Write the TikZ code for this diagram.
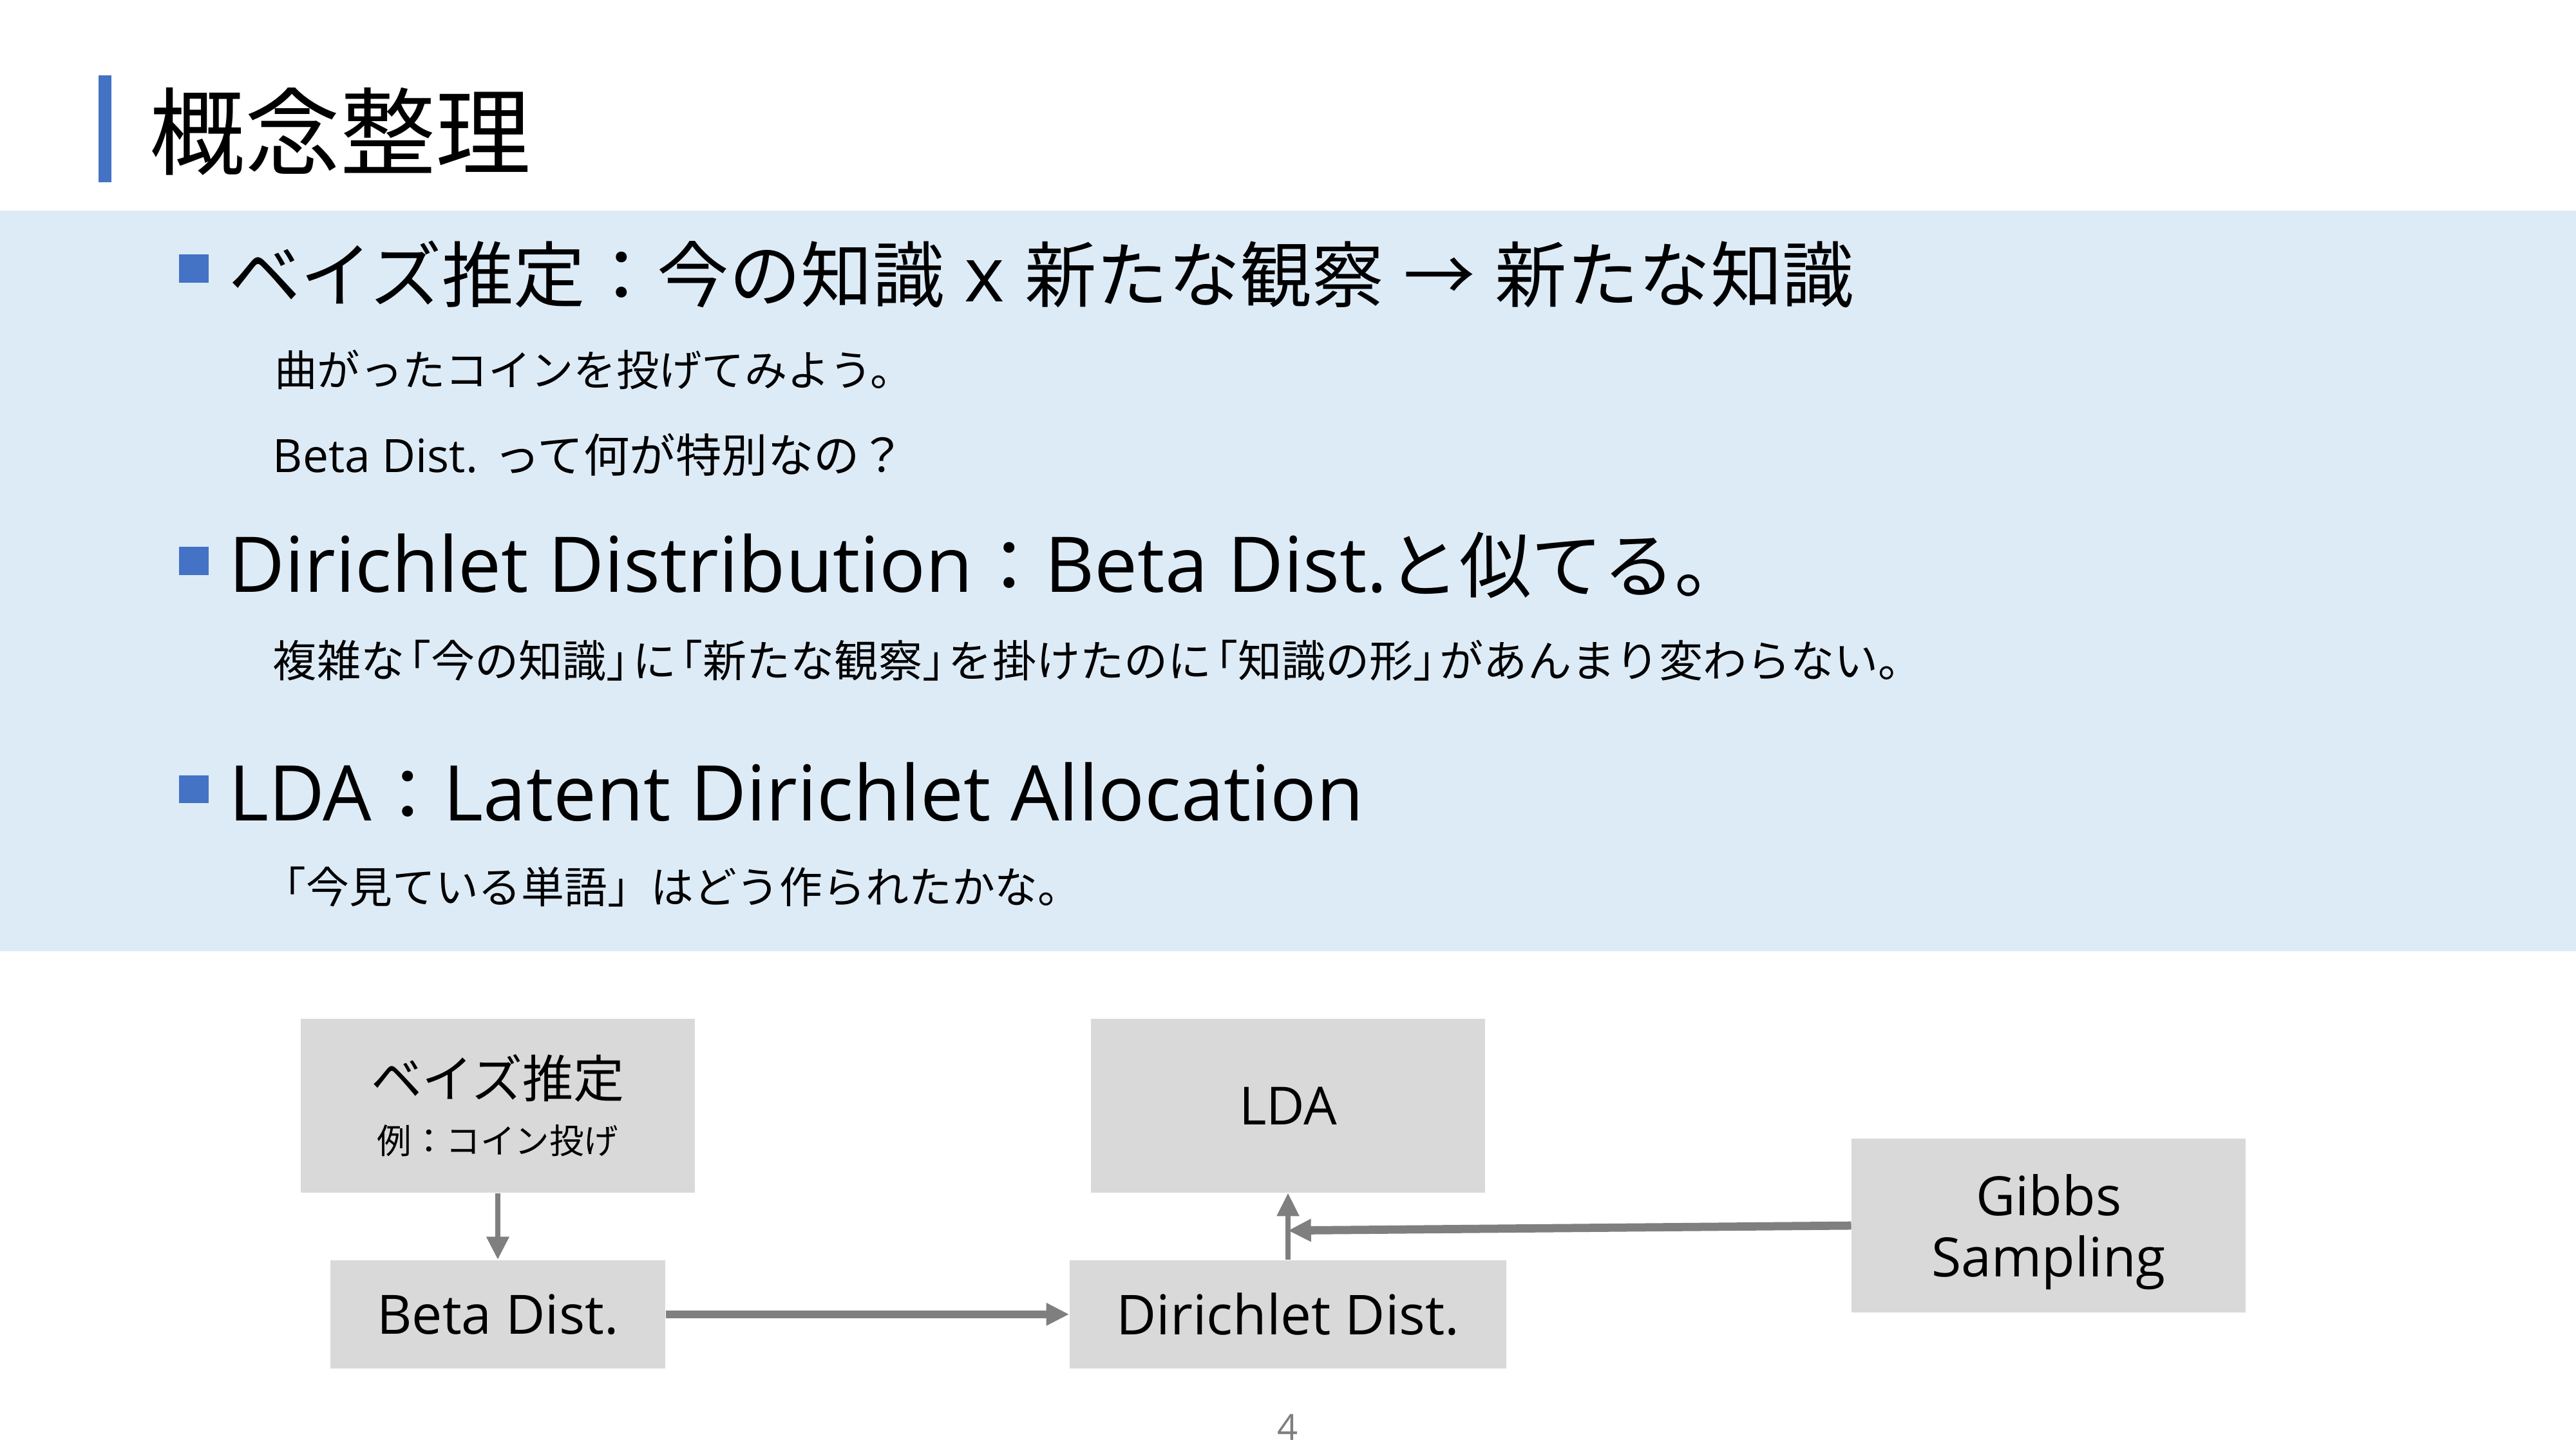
\documentclass[tikz,border=0pt]{standalone}
\usepackage{fontspec}
\setmainfont{Noto Sans CJK JP}
\newfontfamily\lat{Open Sans}
\newcommand\jlb{\kern-0.4em「}
\newcommand\jrb{」\kern-0.4em}
\newcommand\bandlat{\lat\fontsize{46.8}{50}\selectfont}
\usetikzlibrary{arrows.meta}
\definecolor{band}{HTML}{DDEBF7}
\definecolor{accent}{HTML}{4472C4}
\definecolor{boxfill}{HTML}{D9D9D9}
\definecolor{arrowgray}{HTML}{7F7F7F}
\tikzset{
  txt/.style={anchor=west, inner sep=0pt, text=black},
  bigline/.style={txt, font=\fontsize{43.7}{50}\selectfont},
  subline/.style={txt, font=\fontsize{26}{30}\selectfont},
  box/.style={fill=boxfill, inner sep=0pt, align=center, text=black},
  arr/.style={draw=arrowgray, -{Triangle[length=14pt,width=13pt]}},
}
\begin{document}
\begin{tikzpicture}[x=1pt,y=-1pt]
\useasboundingbox (0,0) rectangle (1568,882);
\fill[white] (0,0) rectangle (1568,882);
% title
\fill[accent] (60,46) rectangle (68,111);
\node[txt, font=\fontsize{58}{60}\selectfont] (title) at (91,80) {概念整理};
% band
\fill[band] (0,128) rectangle (1568,579);
\fill[accent] (109,155) rectangle (127,172);
\fill[accent] (109,333) rectangle (127,350);
\fill[accent] (109,472) rectangle (127,489);
\node[bigline] (l1) at (139,167) {ベイズ推定：今の知識{\bandlat{} x }新たな観察{\bandlat{} }→{\bandlat{} }新たな知識};
\node[subline] (s1) at (167,225) {曲がったコインを投げてみよう。};
\node[subline, font=\fontsize{28}{30}\selectfont] (s2) at (166,277) {{\lat\fontsize{28}{30}\selectfont Beta Dist. }って何が特別なの？};
\node[bigline] (l2) at (139,344) {{\bandlat Dirichlet Distribution}：{\bandlat Beta Dist.}と似てる。};
\node[subline, font=\fontsize{26.7}{30}\selectfont] (s3) at (166,402) {複雑な\jlb 今の知識\jrb に\jlb 新たな観察\jrb を掛けたのに\jlb 知識の形\jrb があんまり変わらない。};
\node[bigline] (l3) at (139,482) {{\bandlat LDA}：{\bandlat Latent Dirichlet Allocation}};
\node[subline, font=\fontsize{26.2}{30}\selectfont] (s4) at (160,540) {「今見ている単語」はどう作られたかな。};
% diagram
\node[box, minimum width=240pt, minimum height=106pt, font=\fontsize{31}{33}\selectfont] (bayes) at (303,673)
  {ベイズ推定\\[1pt]{\fontsize{21}{24}\selectfont 例：コイン投げ}};
\node[box, minimum width=204pt, minimum height=66pt, font=\lat\fontsize{33}{36}\selectfont] (beta) at (303,800) {Beta Dist.};
\node[box, minimum width=240pt, minimum height=106pt, font=\lat\fontsize{32}{36}\selectfont] (lda) at (784,673) {LDA};
\node[box, minimum width=266pt, minimum height=66pt, font=\lat\fontsize{33.5}{36}\selectfont] (dir) at (784,800) {Dirichlet Dist.};
\node[box, minimum width=240pt, minimum height=106pt, font=\lat\fontsize{33}{39}\selectfont, text depth=0pt] (gibbs) at (1247,746) {\raisebox{-2pt}{Gibbs}\\Sampling};
\coordinate (gend) at (784,749);
\draw[arr, line width=3.5pt] (bayes.south) -- (beta.north);
\draw[arr, line width=4.5pt] (beta.east) -- (dir.west);
\draw[arr, line width=3pt] (dir.north) -- (lda.south);
\draw[arr, line width=5pt] (gibbs.west) -- (gend);
\node[txt, anchor=center, text=arrowgray, font=\lat\fontsize{22}{24}\selectfont] (page) at (784,869) {4};
\end{tikzpicture}
\end{document}
